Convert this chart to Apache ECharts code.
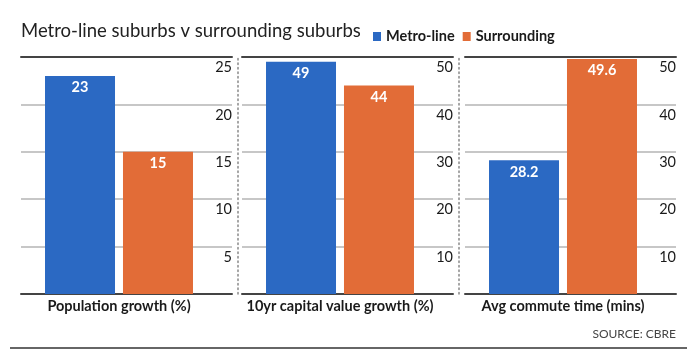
<!DOCTYPE html>
<html>
<head>
<meta charset="utf-8">
<script src="https://cdn.jsdelivr.net/npm/echarts@6/dist/echarts.min.js"></script>
<style>
html,body{margin:0;padding:0;background:#fff;}
#chart{width:700px;height:360px;}
</style>
</head>
<body>
<div id="chart"></div>
<script>
const categories = ['Population growth (%)', '10yr capital value growth (%)', 'Avg commute time (mins)'];
const seriesNames = ['Metro-line', 'Surrounding'];
const metroLine = [23, 49, 28.2];
const surrounding = [15, 44, 49.6];
const axisMax = [25, 50, 50];
const axisInterval = [5, 10, 10];

const FONT = 'Lato';
const BLUE = '#2b69c3';
const ORANGE = '#e26c37';
const panelLeft = [21, 242, 465];
const TOP = 57, HEIGHT = 237;

const grid = [], xAxis = [], yAxis = [], series = [];
// bar grids 0..2
for (let i = 0; i < 3; i++) {
  grid.push({left: panelLeft[i], top: TOP, width: 196, height: HEIGHT});
}
// gridline grids 3..5
for (let i = 0; i < 3; i++) {
  grid.push({left: panelLeft[i], top: TOP, width: 211, height: HEIGHT});
}
// bar x axes 0..2
for (let i = 0; i < 3; i++) {
  xAxis.push({
    type: 'category', gridIndex: i, data: [categories[i]],
    axisLine: {show: false}, axisTick: {show: false},
    axisLabel: {margin: 5, color: '#1a1a1a', fontFamily: FONT, fontWeight: 'bold', fontSize: 14.5}
  });
}
// gridline bottom x axes 3..5
for (let i = 0; i < 3; i++) {
  xAxis.push({
    type: 'category', gridIndex: 3 + i, data: [''],
    axisLine: {show: true, lineStyle: {color: '#444', width: 2}},
    axisTick: {show: false}, axisLabel: {show: false}
  });
}
// gridline top x axes 6..8
for (let i = 0; i < 3; i++) {
  xAxis.push({
    type: 'category', gridIndex: 3 + i, position: 'top', data: [''],
    axisLine: {show: true, lineStyle: {color: '#444', width: 2}},
    axisTick: {show: false}, axisLabel: {show: false}
  });
}
// bar y axes 0..2
for (let i = 0; i < 3; i++) {
  yAxis.push({
    type: 'value', gridIndex: i, min: 0, max: axisMax[i], interval: axisInterval[i],
    show: false, splitLine: {show: false}
  });
}
// gridline y axes 3..5
for (let i = 0; i < 3; i++) {
  yAxis.push({
    type: 'value', gridIndex: 3 + i, position: 'right', offset: 6,
    min: 0, max: axisMax[i], interval: axisInterval[i],
    axisLine: {show: i < 2, lineStyle: {color: '#888', width: 1.5, type: [1.5, 3]}},
    axisTick: {show: false},
    splitLine: {show: true, lineStyle: {color: '#b5b5b5', width: 1.5}},
    axisLabel: {
      inside: true, margin: 6, showMinLabel: false,
      verticalAlign: 'top', padding: [3, 0, 0, 0],
      color: '#1a1a1a', fontFamily: FONT, fontSize: 14.5
    }
  });
}
const labelCfg = {
  show: true, position: 'insideTop', distance: 4,
  color: '#fff', fontFamily: FONT, fontWeight: 'bold', fontSize: 14.5
};
for (let i = 0; i < 3; i++) {
  series.push({
    name: seriesNames[0], type: 'bar', xAxisIndex: i, yAxisIndex: i,
    data: [metroLine[i]], barWidth: 70, barGap: '11.4%',
    itemStyle: {color: BLUE}, label: labelCfg, silent: true
  });
  series.push({
    name: seriesNames[1], type: 'bar', xAxisIndex: i, yAxisIndex: i,
    data: [surrounding[i]], barWidth: 70, barGap: '11.4%',
    itemStyle: {color: ORANGE}, label: labelCfg, silent: true
  });
}

const chart = echarts.init(document.getElementById('chart'), null, {renderer: 'canvas'});
chart.setOption({
  animation: false,
  backgroundColor: '#fff',
  title: {
    text: 'Metro-line suburbs v surrounding suburbs',
    left: 16, top: 17,
    textStyle: {fontFamily: FONT, fontWeight: 'normal', fontSize: 18.5, color: '#222'}
  },
  legend: {
    data: seriesNames, left: 368, top: 24,
    icon: 'rect', itemWidth: 8, itemHeight: 9, itemGap: 8,
    textStyle: {fontFamily: FONT, fontWeight: 'bold', fontSize: 14.5, color: '#1a1a1a'},
    selectedMode: false
  },
  grid, xAxis, yAxis, series,
  graphic: [
    {type: 'text', right: 24, top: 328,
     style: {text: 'SOURCE: CBRE', font: '12px Lato', fill: '#444'}},
    {type: 'line', shape: {x1: 10, y1: 348, x2: 687, y2: 348},
     style: {stroke: '#666', lineWidth: 2}}
  ]
});
</script>
</body>
</html>
